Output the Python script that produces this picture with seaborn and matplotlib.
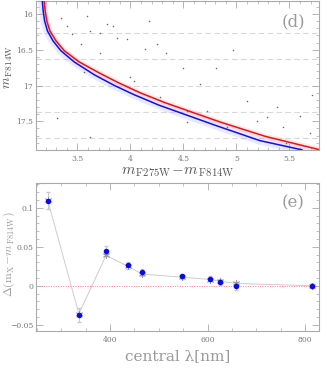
import seaborn as sns
import matplotlib.pyplot as plt
import matplotlib.ticker as mticker
import pandas as pd

# fiducial lines (colour, magnitude)
red_col = [3.188, 3.197, 3.213, 3.241, 3.298, 3.377, 3.517, 3.714, 3.90, 4.09, 4.327, 4.846, 5.27, 5.79]
red_mag = [15.82, 15.96, 16.10, 16.236, 16.375, 16.514, 16.67, 16.83, 16.97, 17.10, 17.24, 17.51, 17.71, 17.90]
blue_col = [3.17, 3.178, 3.192, 3.218, 3.27, 3.345, 3.47, 3.66, 3.85, 4.03, 4.27, 4.80, 5.22, 5.62]
blue_mag = [15.82, 15.96, 16.10, 16.236, 16.375, 16.514, 16.67, 16.85, 17.0, 17.125, 17.275, 17.556, 17.77, 17.90]

# scattered field stars
field_col = [3.35, 3.40, 3.45, 3.59, 3.62, 3.71, 3.78, 3.84, 3.97, 4.14, 4.25, 4.34,
             4.00, 4.03, 3.71, 3.56, 4.28, 4.53, 4.72, 4.91, 5.10, 5.29, 5.44, 5.60,
             5.71, 5.69, 5.47, 5.19, 5.38, 4.53, 3.62, 3.31, 3.53, 3.87, 4.66, 4.81,
             4.97, 4.50, 4.18]
field_mag = [16.05, 16.17, 16.28, 16.03, 16.24, 16.26, 16.14, 16.17, 16.35, 16.49, 16.42, 16.54,
             16.88, 16.93, 16.54, 16.81, 17.16, 17.35, 17.35, 17.58, 17.21, 17.44, 17.58, 17.42,
             17.13, 17.67, 17.81, 17.49, 17.30, 17.51, 17.72, 17.46, 16.42, 16.33, 16.98, 16.75,
             16.51, 16.75, 16.10]
dash_levels = [16.26, 16.63, 17.0, 17.37, 17.73]

# colour separation per filter
wavelength = [272, 336, 392, 436, 466, 547, 606, 625, 658, 814]
delta_obs = [0.109, -0.038, 0.045, 0.026, 0.017, 0.012, 0.009, 0.005, 0.0, 0.0]
delta_err = [0.011, 0.009, 0.006, 0.004, 0.004, 0.003, 0.003, 0.004, 0.005, 0.003]
delta_mod = [0.110, -0.036, 0.039, 0.025, 0.015, 0.011, 0.008, 0.006, 0.003, 0.0]

sns.set_theme(style='ticks')
plt.rcParams['font.family'] = ['DejaVu Serif']
plt.rcParams['mathtext.fontset'] = 'cm'

grey = '#9a9a9a'
fig = plt.figure(figsize=(3.27, 3.71), dpi=100)
ax1 = fig.add_axes([0.110, 0.596, 0.866, 0.401])
ax2 = fig.add_axes([0.110, 0.108, 0.866, 0.399])

# --- panel (d): CMD ---
for lev in dash_levels:
    ax1.axhline(lev, color='#d8d8d8', lw=0.8, ls=(0, (5, 3)), zorder=0)

# spread of the observed sequences
ax1.plot(blue_col, blue_mag, color='#9a9aff', lw=6, alpha=0.22, zorder=1)
ax1.plot(red_col, red_mag, color='#ffb0b0', lw=4, alpha=0.25, zorder=1)
sns.scatterplot(x=field_col, y=field_mag, ax=ax1, color='#666666', s=1.2,
                linewidth=0, zorder=2)
sns.lineplot(data=pd.DataFrame({'c': blue_col, 'm': blue_mag}), x='c', y='m',
             sort=False, estimator=None, color='#1010e0', lw=1.1, ax=ax1, zorder=3)
sns.lineplot(data=pd.DataFrame({'c': red_col, 'm': red_mag}), x='c', y='m',
             sort=False, estimator=None, color='#ee1111', lw=1.1, ax=ax1, zorder=4)

ax1.set_xlim(3.11, 5.78)
ax1.set_ylim(17.9, 15.82)
ax1.xaxis.set_major_locator(mticker.MultipleLocator(0.5))
ax1.xaxis.set_minor_locator(mticker.MultipleLocator(0.1))
ax1.yaxis.set_major_locator(mticker.MultipleLocator(0.5))
ax1.yaxis.set_minor_locator(mticker.MultipleLocator(0.1))
ax1.xaxis.set_major_formatter(mticker.FuncFormatter(lambda v, p: '%g' % v))
ax1.yaxis.set_major_formatter(mticker.FuncFormatter(lambda v, p: '%g' % v))
ax1.set_xlabel(r'$m_{\,\mathrm{F275W}}\!-\!m_{\,\mathrm{F814W}}$', fontsize=11,
               color='#555555', labelpad=1)
ax1.set_ylabel(r'$m_{\,\mathrm{F814W}}$', fontsize=9.5, color='#555555')
ax1.yaxis.set_label_coords(-0.074, 0.56)
ax1.text(0.95, 0.92, '(d)', transform=ax1.transAxes, ha='right', va='top',
         fontsize=12, color=grey)

# --- panel (e): delta vs wavelength ---
ax2.axhline(0, color='#ff8080', lw=0.7, ls=(0, (1, 1.5)), zorder=0)
ax2.errorbar(wavelength, delta_obs, yerr=delta_err, fmt='none', ecolor='#c8c8c8',
             elinewidth=0.7, capsize=1.5, zorder=1)
sns.lineplot(x=wavelength, y=delta_mod, ax=ax2, color='#cccccc', lw=0.7,
             sort=False, estimator=None, zorder=2)
ax2.plot(wavelength, delta_mod, ls='none', marker=(6, 2, 0), ms=5, mew=0.6,
         color='#999999', zorder=3)
sns.scatterplot(x=wavelength, y=delta_obs, ax=ax2, color='#0a0ae6', s=16,
                linewidth=0, zorder=4)

ax2.set_xlim(248, 829)
ax2.set_ylim(-0.058, 0.132)
ax2.xaxis.set_major_locator(mticker.MultipleLocator(200))
ax2.xaxis.set_minor_locator(mticker.MultipleLocator(50))
ax2.yaxis.set_major_locator(mticker.MultipleLocator(0.05))
ax2.yaxis.set_minor_locator(mticker.MultipleLocator(0.01))
ax2.yaxis.set_major_formatter(mticker.FuncFormatter(lambda v, p: ('%g' % round(v, 3)).replace('-', '\u2212')))
ax2.set_xlabel('central \u03bb[nm]', fontsize=11, color=grey, labelpad=3)
ax2.set_ylabel(r'$\Delta(\mathrm{m}_{\mathrm{X}}\!-\!m_{\,\mathrm{F814W}})$', fontsize=8.5,
               color=grey)
ax2.yaxis.set_label_coords(-0.066, 0.52)
ax2.text(0.95, 0.92, '(e)', transform=ax2.transAxes, ha='right', va='top',
         fontsize=12, color=grey)

for ax in (ax1, ax2):
    for sp in ax.spines.values():
        sp.set_color('#aaaaaa')
        sp.set_linewidth(0.8)
    ax.tick_params(which='both', direction='in', top=True, right=True,
                   color='#aaaaaa', labelsize=5.5, labelcolor='#777777', pad=2)
    ax.tick_params(which='major', length=5, width=0.6)
    ax.tick_params(which='minor', length=2.5, width=0.5)
ax1.tick_params(axis='x', pad=4)
ax2.tick_params(axis='x', pad=4)

fig.savefig('out.png', dpi=100)
